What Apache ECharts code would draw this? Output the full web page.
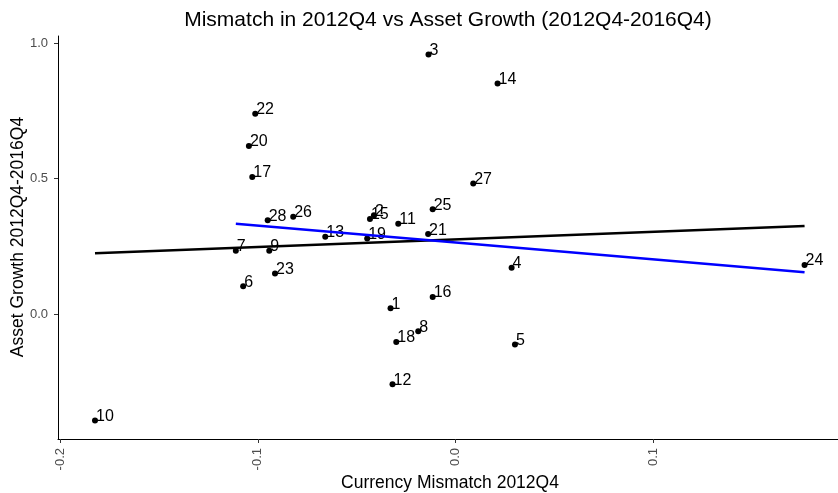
<!DOCTYPE html>
<html>
<head>
<meta charset="utf-8">
<script src="https://cdn.jsdelivr.net/npm/echarts@6/dist/echarts.min.js"></script>
<style>
  html, body { margin: 0; padding: 0; background: #fff; }
  #chart { width: 838px; height: 493px; }
</style>
</head>
<body>
<div id="chart"></div>
<script>
// point labels, x = currency mismatch 2012Q4, y = asset growth 2012Q4-2016Q4
const ids = ['1','2','3','4','5','6','7','8','9','10','11','12','13','14',
             '15','16','17','18','19','20','21','22','23','24','25','26','27','28'];
const mismatch = [-0.0329, -0.0413, -0.0137, 0.0283, 0.0300, -0.1074, -0.1111, -0.0189, -0.0942, -0.1823,
                  -0.0290, -0.0319, -0.0659, 0.0212, -0.0433, -0.0116, -0.1028, -0.0300, -0.0447, -0.1045,
                  -0.0139, -0.1013, -0.0913, 0.1764, -0.0116, -0.0821, 0.0089, -0.0950];
const growth = [0.021, 0.365, 0.958, 0.171, -0.112, 0.103, 0.234, -0.063, 0.234, -0.393,
                0.333, -0.259, 0.285, 0.851, 0.351, 0.063, 0.5055, -0.103, 0.279, 0.620,
                0.295, 0.739, 0.150, 0.181, 0.387, 0.359, 0.482, 0.346];

// fitted lines (endpoints)
const fitAllX = [-0.1823, 0.1764];
const fitAllY = [0.224, 0.325];
const fitSubX = [-0.1111, 0.1764];
const fitSubY = [0.333, 0.154];

const xTicks = [-0.2, -0.1, 0.0, 0.1];
const yTicks = [0.0, 0.5, 1.0];

const font = 'Liberation Sans, Arial, sans-serif';

let chart = echarts.init(document.getElementById('chart'));
chart.setOption({
  animation: false,
  grid: { left: 58, right: 0, top: 36, bottom: 54 },
  xAxis: {
    type: 'value',
    min: -0.201,
    max: 0.1933,
    splitLine: { show: false },
    axisLine: { onZero: false, lineStyle: { color: '#000', width: 1 } },
    axisTick: { customValues: xTicks, length: 4, lineStyle: { color: '#333' } },
    axisLabel: {
      customValues: xTicks,
      rotate: 90,
      color: '#4d4d4d',
      fontSize: 13,
      fontFamily: font,
      margin: 9,
      formatter: v => v.toFixed(1)
    }
  },
  yAxis: {
    type: 'value',
    min: -0.461,
    max: 1.026,
    splitLine: { show: false },
    axisLine: { show: true, onZero: false, lineStyle: { color: '#000', width: 1 } },
    axisTick: { show: true, customValues: yTicks, length: 4, lineStyle: { color: '#333' } },
    axisLabel: {
      customValues: yTicks,
      color: '#4d4d4d',
      fontSize: 13,
      fontFamily: font,
      margin: 10,
      formatter: v => v.toFixed(1)
    }
  },
  graphic: [
    { type: 'text', x: 448, y: 20, style: { text: 'Mismatch in 2012Q4 vs Asset Growth (2012Q4-2016Q4)',
      font: '21px ' + font, fill: '#000', textAlign: 'center', textVerticalAlign: 'middle' } },
    { type: 'text', x: 450, y: 483, style: { text: 'Currency Mismatch 2012Q4',
      font: '17.5px ' + font, fill: '#000', textAlign: 'center', textVerticalAlign: 'middle' } },
    { type: 'text', x: 18, y: 237, rotation: Math.PI / 2, style: { text: 'Asset Growth 2012Q4-2016Q4',
      font: '17.5px ' + font, fill: '#000', textAlign: 'center', textVerticalAlign: 'middle' } }
  ],
  series: [
    {
      type: 'scatter',
      symbolSize: 6,
      itemStyle: { color: '#000', opacity: 1 },
      label: {
        show: true,
        position: 'right',
        distance: 0,
        offset: [-2, -4],
        color: '#000',
        opacity: 1,
        fontSize: 16,
        fontFamily: font,
        formatter: p => ids[p.dataIndex]
      },
      data: mismatch.map((x, i) => [x, growth[i]]),
      z: 3
    },
    {
      type: 'line',
      symbol: 'none',
      lineStyle: { color: '#000', width: 2.5 },
      data: fitAllX.map((x, i) => [x, fitAllY[i]]),
      z: 4
    },
    {
      type: 'line',
      symbol: 'none',
      lineStyle: { color: '#0000ff', width: 2.5 },
      data: fitSubX.map((x, i) => [x, fitSubY[i]]),
      z: 4
    }
  ]
});
</script>
</body>
</html>
